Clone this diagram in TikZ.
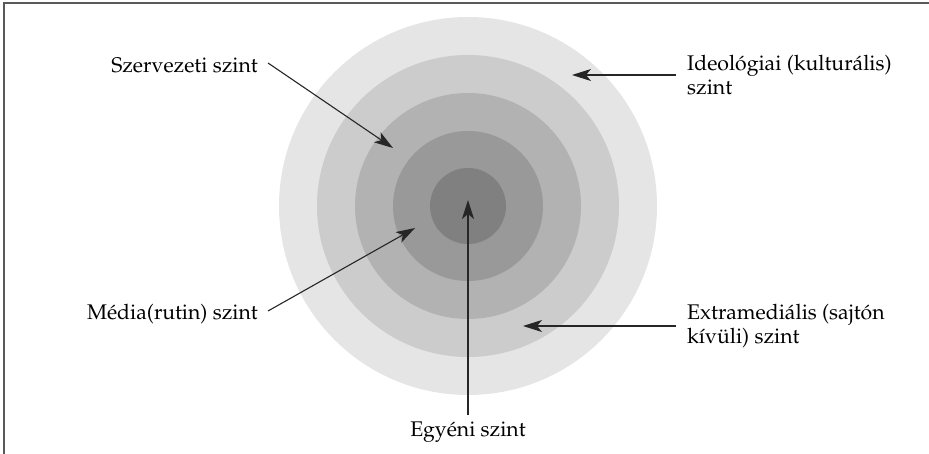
\documentclass[tikz,border=0pt]{standalone}
\usepackage[T1]{fontenc}
\usepackage{mathpazo}
\usetikzlibrary{arrows.meta, positioning}

\begin{document}
\begin{tikzpicture}[x=1pt, y=-1pt, font=\fontsize{21.2}{24}\selectfont,
    levelarrow/.style={-{Stealth[length=19pt, width=12pt, inset=5pt]}, line width=1.1pt, draw=black!85},
    leveltext/.style={inner sep=0pt, align=left}]

    % Define colors (rings from outside to inside)
    \colorlet{ringone}{black!10}
    \colorlet{ringtwo}{black!20}
    \colorlet{ringthree}{black!30}
    \colorlet{ringfour}{black!40}
    \colorlet{ringfive}{black!50}
    \colorlet{framecolor}{black!65}

    \useasboundingbox (0,0) rectangle (929,454);

    % 1. Frame (open at the bottom and on the right)
    \draw[line width=1.3pt, framecolor] (4,454) -- (4,3) -- (929,3);

    % 2. The rings
    \coordinate (centre) at (468,206);
    \foreach \r/\c in {189/ringone, 151/ringtwo, 113/ringthree, 75/ringfour, 38/ringfive}
        \fill[\c] (centre) circle[radius=\r];

    % 3. Labels
    \node[leveltext, anchor=east] (szerv) at (258,65) {Szervezeti szint};
    \node[leveltext, anchor=east] (media) at (258,314) {M\'edia(rutin) szint};
    \node[leveltext, anchor=west] (ideo) at (687,75) {Ideol\'ogiai (kultur\'alis)\\szint};
    \node[leveltext, anchor=west] (extra) at (687,326) {Extramedi\'alis (sajt\'on\\k\'{\i}v\"uli) szint};
    \node[leveltext] (egyeni) at (468,432) {Egy\'eni szint};

    % 4. Arrow tips inside the rings
    \coordinate (szervtip) at (393,148);
    \coordinate (mediatip) at (415,228);
    \coordinate (ideotip) at (572,75);
    \coordinate (extratip) at (523,326);
    \coordinate (egyenitip) at (468,200);

    \draw[levelarrow] ([xshift=10pt, yshift=2pt]szerv.east) -- (szervtip);
    \draw[levelarrow] ([xshift=10pt, yshift=3pt]media.east) -- (mediatip);
    \draw[levelarrow] ([xshift=-11pt]ideo.west) -- (ideotip);
    \draw[levelarrow] ([xshift=-11pt]extra.west) -- (extratip);
    \draw[levelarrow] ([yshift=6pt]egyeni.north) -- (egyenitip);

\end{tikzpicture}
\end{document}
